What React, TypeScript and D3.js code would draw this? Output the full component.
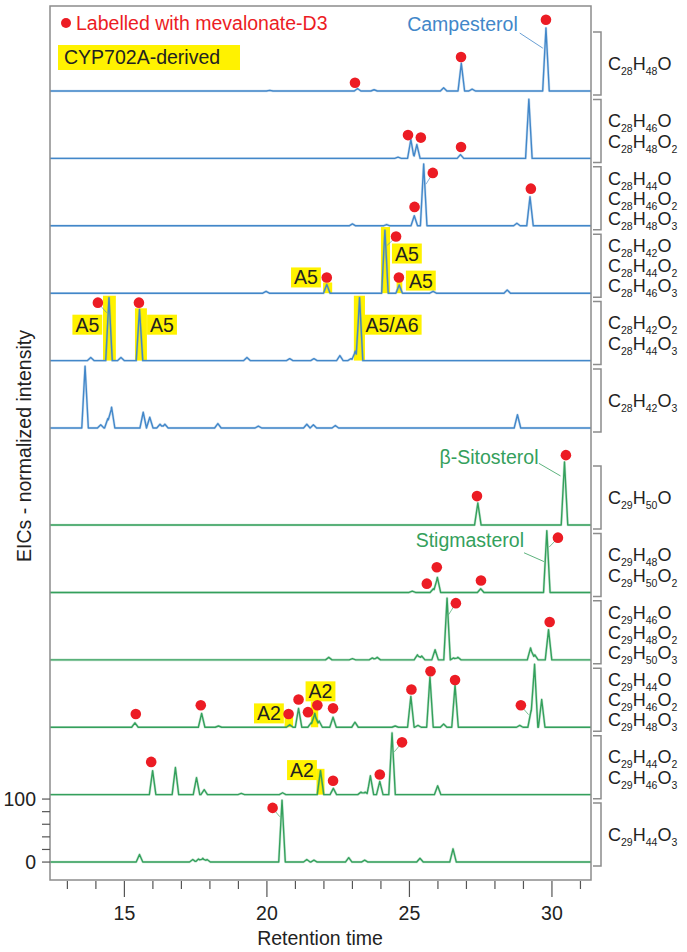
import * as d3 from 'd3';
import React from 'react';

const FONT = '"Liberation Sans", Arial, sans-serif';
const BLUE = '#4287c9';
const GREEN = '#34a05c';
const RED = '#ec1c24';
const YELLOW = '#fff200';
const GREY = '#8c8c8c';

// retention time axis
const xDomain = [12.39, 31.37];
const xMinorTicks = d3.range(13, 32);
const xMajorTicks = [15, 20, 25, 30];
const yTicks = [0, 20, 40, 60, 80, 100];
const yTickLabels = [0, 100];

// formula labels per trace (top to bottom)
const formulas = [
  ['C28H48O'],
  ['C28H46O', 'C28H48O2'],
  ['C28H44O', 'C28H46O2', 'C28H48O3'],
  ['C28H42O', 'C28H44O2', 'C28H46O3'],
  ['C28H42O2', 'C28H44O3'],
  ['C28H42O3'],
  ['C29H50O'],
  ['C29H48O', 'C29H50O2'],
  ['C29H46O', 'C29H48O2', 'C29H50O3'],
  ['C29H44O', 'C29H46O2', 'C29H48O3'],
  ['C29H44O2', 'C29H46O3'],
  ['C29H44O3'],
];

// peaks: [retention time, normalized intensity]
const peaks = [
  [[20.1, 1], [23.18, 4], [23.76, 2], [26.2, 5], [26.82, 44], [27.2, 3], [29.79, 100]],
  [[24.6, 2], [25.05, 30], [25.26, 22], [26.79, 6], [29.19, 94]],
  [[23.0, 3], [24.2, 2], [25.17, 16], [25.5, 98], [28.77, 4], [29.23, 46]],
  [[19.97, 3], [22.1, 14], [24.14, 100], [24.64, 13], [25.83, 3], [28.43, 5]],
  [[13.82, 5], [14.46, 100], [14.88, 5], [15.53, 81], [19.3, 5], [20.8, 3], [21.65, 3], [22.56, 8], [22.95, 3], [23.1, 15], [23.25, 100]],
  [[13.62, 98], [14.17, 5], [14.42, 15], [14.55, 33], [15.66, 25], [15.89, 17], [16.25, 6], [16.42, 6], [18.28, 7], [19.7, 3], [21.4, 6], [21.63, 5], [22.4, 4], [28.79, 21]],
  [[27.4, 35], [30.44, 100]],
  [[25.1, 2], [25.84, 6], [25.98, 24], [27.5, 6], [29.82, 98]],
  [[22.17, 4], [23.0, 2], [23.7, 3], [23.87, 4], [25.28, 8], [25.43, 6], [25.9, 16], [26.32, 98], [26.55, 3], [26.7, 4], [29.25, 19], [29.4, 8], [29.88, 48]],
  [[15.37, 7], [17.71, 22], [18.3, 2], [20.8, 4], [21.11, 30], [21.55, 7], [21.68, 22], [21.83, 10], [22.32, 16], [23.09, 8], [24.5, 2], [25.05, 49], [25.3, 3], [25.72, 80], [26.2, 5], [26.6, 67], [28.87, 3], [29.27, 27], [29.39, 100], [29.64, 44]],
  [[15.99, 38], [16.79, 43], [17.53, 27], [17.8, 8], [19.1, 2], [20.55, 3], [21.88, 38], [22.33, 10], [23.3, 4], [23.45, 4], [23.63, 30], [23.96, 21], [24.39, 98], [25.99, 14]],
  [[15.53, 12], [17.4, 4], [17.6, 5], [17.75, 6], [17.9, 4], [20.53, 98], [21.4, 4], [21.65, 3], [22.87, 7], [23.43, 3], [25.37, 6], [26.53, 21]],
];

// mevalonate-D3 labelled peaks: [rt, level]
const dots = [
  [[23.09, 13], [26.81, 54], [29.79, 113]],
  [[24.95, 37], [25.4, 33], [26.81, 18]],
  [[25.18, 30], [25.82, 84], [29.26, 59]],
  [[22.1, 25], [24.53, 90], [24.63, 25]],
  [[14.07, 92], [15.51, 92]],
  [],
  [[27.37, 46], [30.49, 111]],
  [[25.61, 14], [25.96, 40], [27.51, 19], [30.21, 87]],
  [[26.63, 90], [29.92, 60]],
  [[15.4, 21], [17.68, 35], [20.76, 21], [21.11, 44], [21.44, 24], [21.77, 35], [22.32, 30], [25.07, 60], [25.74, 89], [26.6, 75], [28.91, 35]],
  [[15.94, 52], [22.32, 22], [23.96, 32], [24.74, 83]],
  [[20.2, 86]],
];

// dot leader lines: [rt1, level1, rt2, level2]
const dotLeaders = [
  [], [],
  [[25.8, 82, 25.58, 66]],
  [[24.5, 88, 24.22, 76]],
  [[14.1, 90, 14.38, 76]],
  [], [],
  [[30.18, 85, 29.9, 72]],
  [[26.6, 88, 26.38, 72]],
  [[28.93, 33, 29.18, 20]],
  [[24.71, 81, 24.47, 68]],
  [[20.23, 84, 20.45, 72]],
];

// CYP702A-derived peak highlights: [rt start, rt end, top level]
const highlights = [
  [], [], [],
  [[21.97, 22.29, 17], [24.0, 24.32, 105], [24.55, 24.75, 20]],
  [[14.25, 14.7, 103], [15.37, 15.79, 83], [23.05, 23.44, 103]],
  [], [], [], [],
  [[20.62, 20.92, 20], [21.54, 21.8, 41]],
  [[21.74, 22.02, 41]],
  [],
];

// enzyme tags: [text, rt centre, level centre]
const tags = [
  [], [], [],
  [['A5', 21.37, 25], ['A5', 24.91, 63], ['A5', 25.4, 20]],
  [['A5', 13.7, 57], ['A5', 16.32, 57], ['A5/A6', 24.39, 57]],
  [], [], [], [],
  [['A2', 20.07, 22], ['A2', 21.88, 57]],
  [['A2', 21.23, 39]],
  [],
];

// named sterols
const sterolNames = ['Campesterol', 'β-Sitosterol', 'Stigmasterol'];
const sterolPanels = [0, 6, 7];
const sterolPos = [[28.8, 106], [29.53, 108], [29.02, 83]];
const sterolLeaders = [[28.87, 92, 29.68, 68], [29.54, 98, 30.3, 78], [29.02, 63, 29.72, 49]];

const W = 687;
const H = 952;
const left = 50;
const right = 591;
const top = 6;
const bottom = 880;
const HW = 0.115;
const FS = 19.5;

const x = d3.scaleLinear().domain(xDomain).range([left, right]);
const yv = d3.scaleLinear().domain([0, 100]).range([0, -63]);
const baseline = (i) => 91 + 67.4 * (i + (i >= 6 ? 0.44 : 0));

let ctx = null;
const measure = (s, size) => {
  if (!ctx) ctx = document.createElement('canvas').getContext('2d');
  ctx.font = `${size}px "Liberation Sans"`;
  return ctx.measureText(s).width;
};

function tracePoints(pk) {
  const xs = new Set([xDomain[0], xDomain[1]]);
  pk.forEach(([rt]) => { xs.add(rt - HW); xs.add(rt); xs.add(rt + HW); });
  const sorted = [...xs].sort((a, b) => a - b);
  return sorted.map((t) => [t, d3.sum(pk, ([rt, h]) => Math.max(0, h * (1 - Math.abs(t - rt) / HW)))]);
}

const line = d3.line().x((d) => x(d[0])).y((d) => yv(d[1]));

function Formula({ s, y }) {
  const parts = s.match(/[A-Z][a-z]?|\d+/g);
  let shifted = false;
  return (
    <text x={608} y={y} fontSize={18} fontFamily={FONT} fill="#222">
      {parts.map((p, k) => {
        const isNum = /\d/.test(p);
        let dy = 0;
        if (isNum && !shifted) { dy = 5; shifted = true; }
        else if (!isNum && shifted) { dy = -5; shifted = false; }
        return (
          <tspan key={k} dy={dy} fontSize={isNum ? 10.5 : 18}>{p}</tspan>
        );
      })}
    </text>
  );
}

export default function App() {
  return (
    <svg width={W} height={H} style={{ position: 'absolute', left: 0, top: 0, background: '#fff' }} fontFamily={FONT}>
      {/* legend */}
      <circle cx={66} cy={23} r={5} fill={RED} />
      <text x={76} y={30} fontSize={FS} fill={RED}>Labelled with mevalonate-D3</text>
      <rect x={58} y={45} width={182} height={25} fill={YELLOW} />
      <text x={64} y={64} fontSize={FS} fill="#222">CYP702A-derived</text>

      {formulas.map((f, i) => {
        const b = baseline(i);
        const color = i < 6 ? BLUE : GREEN;
        const mid = b - 28;
        const sp = f.length === 3 ? 20 : 21;
        return (
          <g key={i}>
            {highlights[i].map(([a, c, t], k) => (
              <rect key={'h' + k} x={x(a)} y={b + yv(t)} width={x(c) - x(a)} height={-yv(t)} fill={YELLOW} />
            ))}
            {tags[i].map(([s, rt, l], k) => {
              const w = measure(s, FS) + 6;
              return (
                <g key={'t' + k}>
                  <rect x={x(rt) - w / 2} y={b + yv(l) - 10} width={w} height={20} fill={YELLOW} />
                  <text x={x(rt)} y={b + yv(l) + 7} fontSize={FS} textAnchor="middle" fill="#222">{s}</text>
                </g>
              );
            })}
            <g transform={`translate(0,${b})`}>
              <path d={line(tracePoints(peaks[i]))} fill="none" stroke={color} strokeWidth={2.6} strokeOpacity={0.25} strokeLinejoin="round" />
              <path d={line(tracePoints(peaks[i]))} fill="none" stroke={color} strokeWidth={1.4} strokeLinejoin="round" />
              {dotLeaders[i].map(([r1, l1, r2, l2], k) => (
                <line key={'l' + k} x1={x(r1)} y1={yv(l1)} x2={x(r2)} y2={yv(l2)} stroke={color} strokeWidth={0.8} opacity={0.8} />
              ))}
              {dots[i].map(([rt, l], k) => (
                <circle key={'d' + k} cx={x(rt)} cy={yv(l)} r={5.3} fill={RED} />
              ))}
            </g>
            {/* bracket */}
            <path d={`M593,${b - 59}H601V${b + 4}H593`} fill="none" stroke={GREY} strokeWidth={1.5} />
            {f.map((s, k) => (
              <Formula key={k} s={s} y={mid + (k - (f.length - 1) / 2) * sp + 7} />
            ))}
          </g>
        );
      })}

      {sterolNames.map((s, k) => {
        const i = sterolPanels[k];
        const b = baseline(i);
        const color = i < 6 ? BLUE : GREEN;
        const [r1, l1, r2, l2] = sterolLeaders[k];
        return (
          <g key={s}>
            <text x={x(sterolPos[k][0])} y={b + yv(sterolPos[k][1]) + 7} fontSize={FS} textAnchor="end" fill={color}>{s}</text>
            <line x1={x(r1)} y1={b + yv(l1)} x2={x(r2)} y2={b + yv(l2)} stroke={color} strokeWidth={0.8} />
          </g>
        );
      })}

      {/* frame */}
      <rect x={left} y={top} width={right - left} height={bottom - top} fill="none" stroke={GREY} strokeWidth={1.5} />

      {/* x axis */}
      {xMinorTicks.map((t) => (
        <line key={t} x1={x(t)} x2={x(t)} y1={bottom + 1} y2={bottom + (xMajorTicks.includes(t) ? 17 : 9)} stroke="#555" strokeWidth={1.2} />
      ))}
      {xMajorTicks.map((t) => (
        <text key={t} x={x(t)} y={920} fontSize={FS} textAnchor="middle" fill="#222">{t}</text>
      ))}
      <text x={320} y={945} fontSize={FS} textAnchor="middle" fill="#222">Retention time</text>

      {/* y axis on the last trace */}
      {yTicks.map((t) => (
        <line key={t} x1={left - 8} x2={left} y1={baseline(11) + yv(t)} y2={baseline(11) + yv(t)} stroke="#555" strokeWidth={1.2} />
      ))}
      {yTickLabels.map((t) => (
        <text key={t} x={36} y={baseline(11) + yv(t) + 7} fontSize={FS} textAnchor="end" fill="#222">{t}</text>
      ))}
      <text transform="translate(31,446) rotate(-90)" fontSize={FS} textAnchor="middle" fill="#222">EICs - normalized intensity</text>
    </svg>
  );
}
